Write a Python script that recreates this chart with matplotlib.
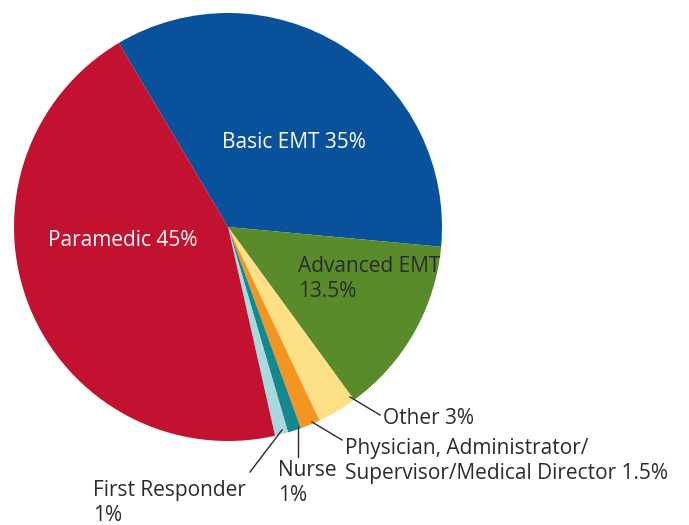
import matplotlib
matplotlib.use("Agg")
import matplotlib.pyplot as plt

categories = ["Basic EMT", "Advanced EMT", "Other", "Physician, Administrator/\nSupervisor/Medical Director",
              "Nurse", "First Responder", "Paramedic"]
values = [35, 13.5, 3, 1.5, 1, 1, 45]
colors = ["#0a519b", "#5a8b2b", "#fddf86", "#f39521", "#17878e", "#a8d9de", "#c3122f"]

plt.rcParams['font.family'] = ['Open Sans', 'DejaVu Sans']

fig = plt.figure(figsize=(6.89, 5.25), dpi=100)
ax = fig.add_axes([0, 0, 1, 1])

ax.pie(values, colors=colors, startangle=-120.7, counterclock=True,
       center=(228, 227), radius=214, frame=True,
       wedgeprops=dict(linewidth=0))
ax.set_xlim(0, 689)
ax.set_ylim(525, 0)
ax.set_aspect('equal')
ax.axis('off')

fs = 15
dark = "#2b2b2b"
ax.text(294, 142, "Basic EMT 35%", color="white", fontsize=fs, ha="center", va="center")
ax.text(48, 240, "Paramedic 45%", color="white", fontsize=fs, ha="left", va="center")
ax.text(298, 279, "Advanced EMT\n13.5%", color=dark, fontsize=fs, ha="left", va="center", linespacing=1.2)

ax.plot([350, 380], [397, 415], color=dark, lw=1)
ax.text(383, 418, "Other 3%", color=dark, fontsize=fs, ha="left", va="center")
ax.plot([312, 342], [422, 440], color=dark, lw=1)
ax.text(345, 461, "Physician, Administrator/\nSupervisor/Medical Director 1.5%", color=dark, fontsize=fs,
        ha="left", va="center", linespacing=1.2)
ax.plot([298, 298], [427, 457], color=dark, lw=1)
ax.text(278, 483, "Nurse\n1%", color=dark, fontsize=fs, ha="left", va="center", linespacing=1.2)
ax.plot([282, 250], [430, 472], color=dark, lw=1)
ax.text(93, 503, "First Responder\n1%", color=dark, fontsize=fs, ha="left", va="center", linespacing=1.2)

fig.savefig("out.png", dpi=100)
